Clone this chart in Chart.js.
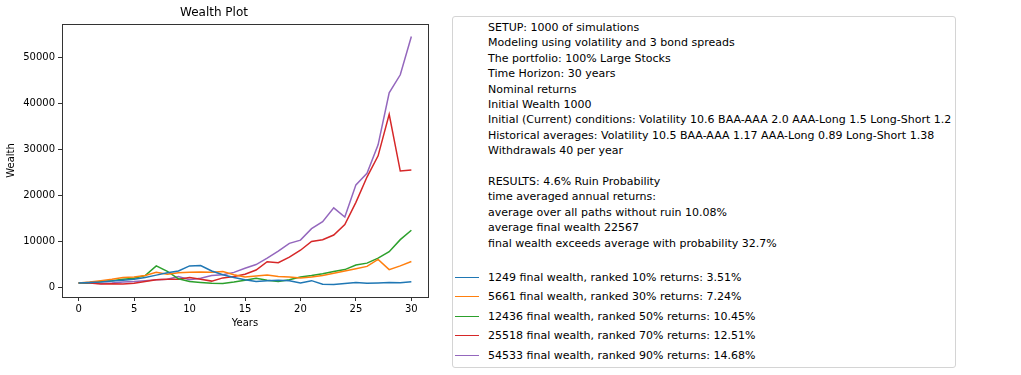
<!DOCTYPE html>
<html>
<head>
<meta charset="utf-8">
<script src="https://cdn.jsdelivr.net/npm/chart.js@4.4.1/dist/chart.umd.min.js"></script>
<style>
  html, body { margin: 0; padding: 0; background: #fff; }
  body { width: 1021px; height: 375px; position: relative; overflow: hidden; font-family: "DejaVu Sans", sans-serif; }
  #wrap { position: absolute; left: 0; top: 0; width: 440px; height: 375px; }
  #legend {
    position: absolute; left: 452px; top: 16px; width: 504px; height: 352px;
    border: 1px solid #d4d4d4; border-radius: 3px; box-sizing: border-box;
    font-family: "DejaVu Sans", sans-serif; font-size: 11px; color: #000;
  }
  #notes { position: absolute; left: 35px; top: 3px; line-height: 15.4px; white-space: pre; }
  .entry { position: absolute; left: 0; height: 16px; line-height: 16px; white-space: pre; }
  .entry .swatch { position: absolute; left: 2px; top: 7px; width: 24px; height: 0; border-top: 1.5px solid; }
  .entry .lbl { position: absolute; left: 35px; top: 0; }
</style>
</head>
<body>
<div id="wrap"><canvas id="c" width="440" height="375"></canvas></div>
<div id="legend"><div id="notes"></div></div>
<script>
const years = [0,1,2,3,4,5,6,7,8,9,10,11,12,13,14,15,16,17,18,19,20,21,22,23,24,25,26,27,28,29,30];
const p10 = [1000,1100,1200,1400,1600,1800,2200,2700,3200,3600,4700,4800,3600,2800,2200,1700,1300,1500,1600,1500,1000,1500,700,650,900,1100,950,1000,1100,1050,1249];
const p30 = [1000,1200,1500,1800,2200,2300,2600,3300,2900,3200,3300,3400,3300,3500,2800,2300,2500,2700,2400,2300,2100,2300,2600,3100,3600,4100,4600,6100,3900,4700,5661];
const p50 = [1000,1100,1300,1500,1800,2000,2600,4700,3500,1900,1300,1100,950,900,1200,1600,2000,1600,1300,1700,2300,2600,3000,3500,3900,4900,5300,6400,7800,10400,12436];
const p70 = [1000,1000,800,850,800,950,1300,1700,1800,1800,2200,1800,1400,2100,2400,2900,3800,5600,5400,6600,8100,10000,10400,11400,13700,18500,24000,28600,37600,25300,25518];
const p90 = [1000,1000,900,1000,1200,1300,1500,1700,1800,2400,1700,2000,2600,2800,3300,4200,5000,6400,7900,9600,10300,12800,14300,17300,15300,22300,24800,31000,42300,46200,54533];
const seriesLabels = [
  "1249 final wealth, ranked 10% returns: 3.51%",
  "5661 final wealth, ranked 30% returns: 7.24%",
  "12436 final wealth, ranked 50% returns: 10.45%",
  "25518 final wealth, ranked 70% returns: 12.51%",
  "54533 final wealth, ranked 90% returns: 14.68%"
];
const seriesColors = ["#1f77b4","#ff7f0e","#2ca02c","#d62728","#9467bd"];
const yTicks = [0,10000,20000,30000,40000,50000];
const xTicks = [0,5,10,15,20,25,30];
const noteLines = [
  "SETUP: 1000 of simulations",
  "Modeling using volatility and 3 bond spreads",
  "The portfolio: 100% Large Stocks",
  "Time Horizon: 30 years",
  "Nominal returns",
  "Initial Wealth 1000",
  "Initial (Current) conditions: Volatility 10.6 BAA-AAA 2.0 AAA-Long 1.5 Long-Short 1.2",
  "Historical averages: Volatility 10.5 BAA-AAA 1.17 AAA-Long 0.89 Long-Short 1.38",
  "Withdrawals 40 per year",
  "",
  "RESULTS: 4.6% Ruin Probability",
  "time averaged annual returns:",
  "average over all paths without ruin 10.08%",
  "average final wealth 22567",
  "final wealth exceeds average with probability 32.7%"
];

const allSeries = [p10, p30, p50, p70, p90];
const datasets = allSeries.map((s, i) => ({
  label: seriesLabels[i],
  data: years.map((x, j) => ({x: x, y: s[j]})),
  borderColor: seriesColors[i],
  backgroundColor: seriesColors[i],
  borderWidth: 1.5,
  pointRadius: 0,
  tension: 0,
  fill: false
}));

const frame = {
  id: 'frame',
  afterDatasetsDraw(chart) {
    const a = chart.chartArea, ctx = chart.ctx;
    ctx.save();
    ctx.strokeStyle = '#333';
    ctx.lineWidth = 1;
    ctx.strokeRect(Math.round(a.left) + 0.5, Math.round(a.top) + 0.5, Math.round(a.right - a.left), Math.round(a.bottom - a.top));
    ctx.restore();
  }
};

const font10 = {family: "DejaVu Sans", size: 10};
const chart = new Chart(document.getElementById('c'), {
  type: 'line',
  data: {datasets},
  options: {
    responsive: false,
    animation: false,
    layout: {padding: {left: 0, right: 12, top: 0, bottom: 40}},
    plugins: {
      legend: {display: false},
      tooltip: {enabled: false},
      title: {display: true, text: 'Wealth Plot', color: '#000',
        font: {family: "DejaVu Sans", size: 12, weight: 'normal', lineHeight: 1.25},
        padding: {top: 5, bottom: 4}}
    },
    scales: {
      x: {
        type: 'linear', min: -1.5, max: 31.5,
        afterBuildTicks: s => { s.ticks = xTicks.map(v => ({value: v})); },
        afterFit: s => { s.height = 38; },
        grid: {display: true, drawOnChartArea: false, drawTicks: true, tickLength: 4, color: '#333', tickWidth: 1},
        border: {display: false},
        ticks: {color: '#000', font: font10, padding: 2, maxRotation: 0},
        title: {display: true, text: 'Years', color: '#000', font: font10, padding: {top: 0, bottom: 6}}
      },
      y: {
        type: 'linear', min: -2050, max: 57230,
        afterBuildTicks: s => { s.ticks = yTicks.map(v => ({value: v})); },
        afterFit: s => { s.width = 62; },
        grid: {display: true, drawOnChartArea: false, drawTicks: true, tickLength: 4, color: '#333', tickWidth: 1},
        border: {display: false},
        ticks: {color: '#000', font: font10, padding: 3, callback: v => String(v)},
        title: {display: true, text: 'Wealth', color: '#000', font: font10, padding: {top: 5, bottom: 0}}
      }
    }
  },
  plugins: [frame]
});

// HTML legend built from the chart's datasets
document.getElementById('notes').textContent = noteLines.join('\n');
const legend = document.getElementById('legend');
chart.data.datasets.forEach((ds, i) => {
  const e = document.createElement('div');
  e.className = 'entry';
  e.style.top = (253 + i * 19.4) + 'px';
  const sw = document.createElement('span');
  sw.className = 'swatch';
  sw.style.borderTopColor = ds.borderColor;
  const lb = document.createElement('span');
  lb.className = 'lbl';
  lb.textContent = ds.label;
  e.appendChild(sw); e.appendChild(lb);
  legend.appendChild(e);
});
</script>
</body>
</html>
